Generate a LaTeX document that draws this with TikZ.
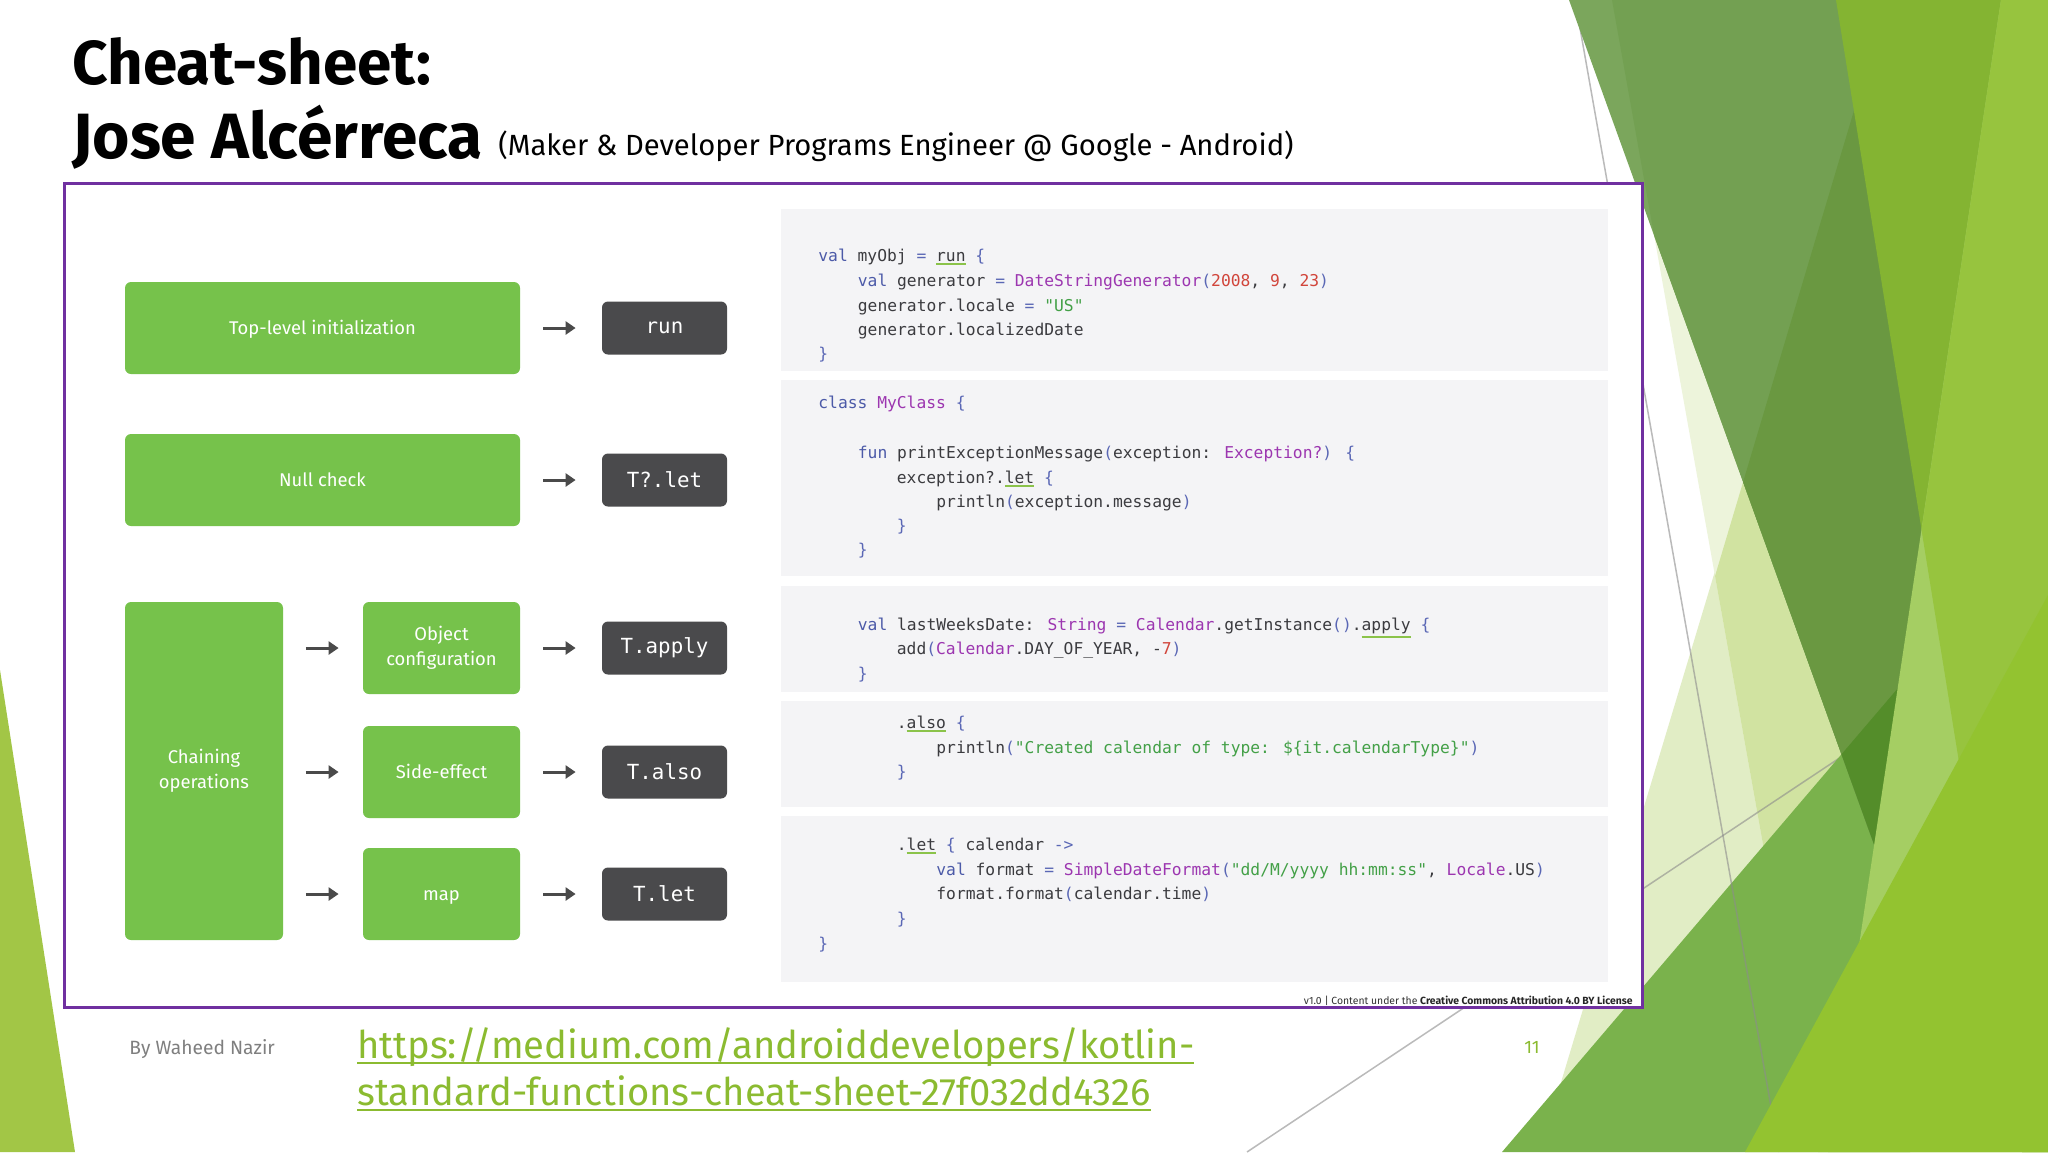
\documentclass[tikz,border=0pt]{standalone}
\usepackage{fontspec}
\setmainfont{Fira Sans}
\newfontfamily\codefont{DejaVu Sans Mono}
\usetikzlibrary{arrows.meta}

\definecolor{boxgreen}{HTML}{76C24B}
\definecolor{darkbox}{HTML}{4A4A4C}
\definecolor{arrowc}{HTML}{4A4A4A}
\definecolor{panelc}{HTML}{F4F4F6}
\definecolor{plainc}{HTML}{3B3B3F}
\definecolor{kwc}{HTML}{4C5AA8}
\definecolor{tyc}{HTML}{9C36B0}
\definecolor{numc}{HTML}{D1453B}
\definecolor{strc}{HTML}{43A047}
\definecolor{puc}{HTML}{5A67B5}
\definecolor{ulc}{HTML}{8BC34A}
\definecolor{framec}{HTML}{7030A0}
\definecolor{urlc}{HTML}{8BBB30}
\definecolor{footc}{HTML}{7F7F7F}
\definecolor{licc}{HTML}{333333}
% background
\definecolor{cWedge}{HTML}{A2C646}
\definecolor{cG}{HTML}{E1EDC5}
\definecolor{cH}{HTML}{EDF4DB}
\definecolor{cGH}{HTML}{D1E3A1}
\definecolor{cO}{HTML}{7BA65C}
\definecolor{cOH}{HTML}{73A052}
\definecolor{cOGH}{HTML}{6A9841}
\definecolor{cM}{HTML}{7AB24C}
\definecolor{cOM}{HTML}{548D2A}
\definecolor{cT}{HTML}{84B432}
\definecolor{cLB}{HTML}{A5CE63}
\definecolor{cLBT}{HTML}{97C43E}
\definecolor{cBL}{HTML}{93C330}

\newcommand\myul[4]{\setbox0=\hbox{#4}\rlap{\textcolor{#1}{\rule[#2]{\wd0}{#3}}}\box0\relax}
\newcommand\cKw[1]{\textcolor{kwc}{#1}}
\newcommand\cTy[1]{\textcolor{tyc}{#1}}
\newcommand\cNum[1]{\textcolor{numc}{#1}}
\newcommand\cStr[1]{\textcolor{strc}{#1}}
\newcommand\cPu[1]{\textcolor{puc}{#1}}
\newcommand\cUl[1]{\myul{ulc}{-1.8pt}{0.9pt}{#1}}
\newcommand\cUlD[1]{\myul{ulc}{-4pt}{0.9pt}{#1}}

\tikzset{
  gbox/.style={fill=boxgreen, rounded corners=3pt, text=white, align=center, inner sep=0pt,
    font=\fontsize{9.2}{12.5}\selectfont},
  oneline/.style={text height=6.3pt, text depth=0pt},
  dbox/.style={fill=darkbox, rounded corners=3pt, text=white, inner sep=0pt,
    font={\codefont\fontsize{10.4}{12}\selectfont}, minimum width=62.5pt, minimum height=26.5pt},
  arr/.style={draw=arrowc, line width=1.5pt, -{Triangle[length=5pt,width=6.5pt]}},
  panel/.style={fill=panelc, inner sep=0pt, draw=none},
  code/.style={anchor=base west, inner sep=0pt, text=plainc,
    font={\codefont\fontsize{8.15}{10}\selectfont}},
  gline/.style={draw=black!45, opacity=0.6, line width=0.75pt},
  txt/.style={inner sep=0pt, anchor=base west},
}

\begin{document}
\begin{tikzpicture}[x=0.5pt,y=-0.5pt]
\useasboundingbox (0,0) rectangle (2048,1152);
\fill[white] (0,0) rectangle (2048,1152);

% ---------- background facets ----------
\fill[cWedge] (0,670) -- (75,1152) -- (0,1152) -- cycle;
\fill[cG] (1887,0) -- (1540,1152) -- (2048,1152) -- (2048,0) -- cycle;
\fill[cH] (1612,0) -- (1818,1152) -- (2048,1152) -- (2048,0) -- cycle;
\fill[cGH] (1887,0) -- (1715,576) -- (1818,1152) -- (2048,1152) -- (2048,0) -- cycle;
\draw[gline] (1247,1152) -- (1841,757);
\fill[cM] (1502,1152) -- (1910,674) -- (1910,1152) -- cycle;
\draw[gline] (1575,0) -- (1779,1152);
\begin{scope}
  \clip (1569,0) -- (1876,850) -- (1930,500) -- (1930,0) -- cycle;
  \fill[cO] (1500,0) rectangle (2048,1152);
  \fill[cOH] (1612,0) -- (1818,1152) -- (2048,1152) -- (2048,0) -- cycle;
  \fill[cOGH] (1887,0) -- (1715,576) -- (1818,1152) -- (2048,1152) -- (2048,0) -- cycle;
  \fill[cOM] (1502,1152) -- (1910,674) -- (1910,1152) -- cycle;
\end{scope}
\fill[cT] (1836,0) -- (2048,0) -- (2048,1152) -- (2022,1152) -- cycle;
\fill[cLB] (2001,0) -- (2048,0) -- (2048,1152) -- (1828,1152) -- cycle;
\fill[cLBT] (2001,0) -- (2048,0) -- (2048,1152) -- (2022,1152) -- (1921.5,530) -- cycle;
\fill[cBL] (1745,1152) -- (2048,595) -- (2048,1152) -- cycle;

% ---------- titles ----------
\node[txt, font=\bfseries\fontsize{31}{36}\selectfont] (t1) at (72,84) {Cheat-sheet:};
\node[txt, font=\bfseries\fontsize{32}{36}\selectfont] (t2) at (72,158) {Jose Alcérreca};
\node[txt, font=\fontsize{14.6}{16}\selectfont] (t3) at (498,155) {(Maker \& Developer Programs Engineer @ Google - Android)};

% ---------- frame ----------
\draw[draw=framec, line width=1.5pt, fill=white] (64,183) rectangle (1642,1007);

% ---------- left diagram ----------
\node[gbox, oneline, minimum width=197.5pt, minimum height=46pt] (top) at (322.5,328) {Top-level initialization};
\node[gbox, oneline, minimum width=197.5pt, minimum height=46pt] (null) at (322.5,480) {Null check};
\node[gbox, minimum width=79pt, minimum height=169pt] (chain) at (204,771) {Chaining\\operations};
\node[gbox, minimum width=78.5pt, minimum height=46pt] (objc) at (441.5,648) {Object\\configuration};
\node[gbox, oneline, minimum width=78.5pt, minimum height=46pt] (side) at (441.5,772) {Side-effect};
\node[gbox, oneline, minimum width=78.5pt, minimum height=46pt] (map) at (441.5,894) {map};

\node[dbox] (run) at (664.5,328) {run};
\node[dbox] (tlet1) at (664.5,480) {T?.let};
\node[dbox] (tapply) at (664.5,648) {T.apply};
\node[dbox] (talso) at (664.5,772) {T.also};
\node[dbox] (tlet2) at (664.5,894) {T.let};

\draw[arr, shorten <=11.5pt, shorten >=13pt] (top) -- (run);
\draw[arr, shorten <=11.5pt, shorten >=13pt] (null) -- (tlet1);
\draw[arr, shorten <=11.5pt, shorten >=13pt] (objc) -- (tapply);
\draw[arr, shorten <=11.5pt, shorten >=13pt] (side) -- (talso);
\draw[arr, shorten <=11.5pt, shorten >=13pt] (map) -- (tlet2);
\draw[arr, shorten <=11.25pt, shorten >=12pt] (chain.east |- objc) -- (objc);
\draw[arr, shorten <=11.25pt, shorten >=12pt] (chain.east |- side) -- (side);
\draw[arr, shorten <=11.25pt, shorten >=12pt] (chain.east |- map) -- (map);

% ---------- code panels ----------
\node[panel, minimum width=413.5pt, minimum height=81pt] (p1) at (1194.5,290) {};
\node[panel, minimum width=413.5pt, minimum height=98pt] (p2) at (1194.5,478) {};
\node[panel, minimum width=413.5pt, minimum height=53pt] (p3) at (1194.5,639) {};
\node[panel, minimum width=413.5pt, minimum height=53pt] (p4) at (1194.5,754) {};
\node[panel, minimum width=413.5pt, minimum height=83pt] (p5) at (1194.5,898.5) {};

% panel 1
\node[code] (c11) at (818,261) {\cKw{val} myObj \cPu{=} \cUl{run} \cPu{\{}};
\node[code] (c12) at (857.5,286) {\cKw{val} generator \cPu{=} \cTy{DateStringGenerator}\cPu{(}\cNum{2008}, \cNum{9}, \cNum{23}\cPu{)}};
\node[code] (c13) at (857.5,311) {generator.locale \cPu{=} \cStr{"US"}};
\node[code] (c14) at (857.5,335) {generator.localizedDate};
\node[code] (c15) at (818,359) {\cPu{\}}};
% panel 2
\node[code] (c21) at (818,408) {\cKw{class} \cTy{MyClass} \cPu{\{}};
\node[code] (c22) at (857.5,458) {\cKw{fun} printExceptionMessage\cPu{(}exception: \cTy{Exception?}\cPu{)} \cPu{\{}};
\node[code] (c23) at (896.5,483) {exception?.\cUl{let} \cPu{\{}};
\node[code] (c24) at (936,507) {println\cPu{(}exception.message\cPu{)}};
\node[code] (c25) at (896.5,531) {\cPu{\}}};
\node[code] (c26) at (857.5,555) {\cPu{\}}};
% panel 3
\node[code] (c31) at (857.5,630) {\cKw{val} lastWeeksDate: \cTy{String} \cPu{=} \cTy{Calendar}.getInstance\cPu{()}.\cUlD{apply} \cPu{\{}};
\node[code] (c32) at (896.5,654) {add\cPu{(}\cTy{Calendar}.DAY\_OF\_YEAR, -\cNum{7}\cPu{)}};
\node[code] (c33) at (857.5,679) {\cPu{\}}};
% panel 4
\node[code] (c41) at (896.5,728) {.\cUl{also} \cPu{\{}};
\node[code] (c42) at (936,753) {println\cPu{(}\cStr{"Created calendar of type: \$\{it.calendarType\}"}\cPu{)}};
\node[code] (c43) at (896.5,777) {\cPu{\}}};
% panel 5
\node[code] (c51) at (896.5,850) {.\cUl{let} \cPu{\{} calendar \cPu{->}};
\node[code] (c52) at (936,875) {\cKw{val} format \cPu{=} \cTy{SimpleDateFormat}\cPu{(}\cStr{"dd/M/yyyy hh:mm:ss"}, \cTy{Locale}.US\cPu{)}};
\node[code] (c53) at (936,899) {format.format\cPu{(}calendar.time\cPu{)}};
\node[code] (c54) at (896.5,924) {\cPu{\}}};
\node[code] (c55) at (818,949) {\cPu{\}}};

% license
\node[inner sep=0pt, anchor=base east, text=licc, font=\fontsize{5.2}{6}\selectfont] (lic) at (1633,1004)
  {v1.0 | Content under the \textbf{\color{black!85}Creative Commons Attribution 4.0 BY License}};

% ---------- footer ----------
\node[txt, text=footc, font=\fontsize{9.6}{12}\selectfont] (by) at (129,1054) {By Waheed Nazir};
\node[txt, text=urlc, font=\fontsize{19.1}{24}\selectfont] (url1) at (357,1058) {\myul{urlc}{-3pt}{1pt}{https://medium.com/androiddevelopers/kotlin-}};
\node[txt, text=urlc, font=\fontsize{19.1}{24}\selectfont] (url2) at (357,1105) {\myul{urlc}{-3pt}{1pt}{standard-functions-cheat-sheet-27f032dd4326}};
\node[text=urlc, inner sep=0pt, font=\fontsize{9}{11}\selectfont] (pg) at (1532,1047) {11};
\end{tikzpicture}
\end{document}
